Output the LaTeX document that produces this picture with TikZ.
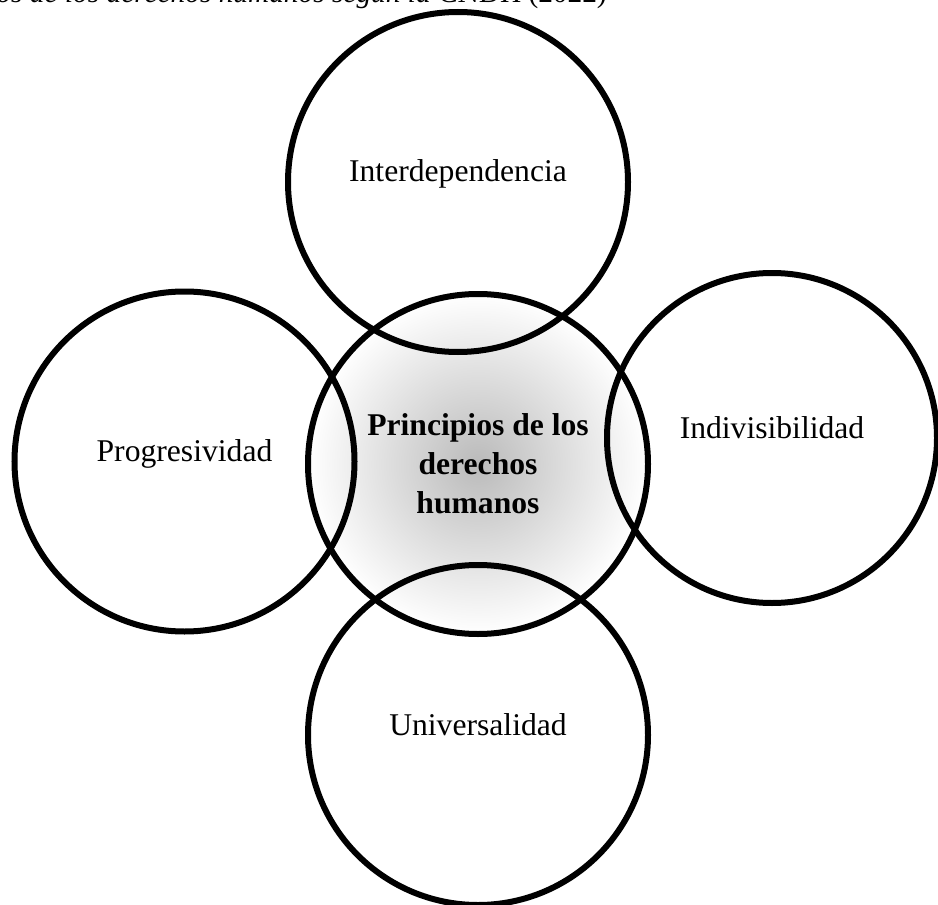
\documentclass[tikz,border=0pt]{standalone}
\usepackage{fontspec}
\setmainfont{Liberation Serif}
\usetikzlibrary{shapes,positioning}
\tikzstyle{principio} = [circle, draw, line width=0.12cm, minimum size=6.8cm,
    text height=0.35em, text depth=0.35em, font=\fontsize{18}{22.5}\selectfont]
\tikzstyle{nucleo} = [circle, draw, line width=0.12cm, minimum size=6.8cm,
    shade, inner color=black!27, outer color=white, align=center,
    font=\fontsize{18}{22.2}\selectfont\bfseries]

\begin{document}
\begin{tikzpicture}[node distance = 6cm]
    % Frame
    \useasboundingbox (0,0) rectangle (18.76,-18.10);
    \clip (0,0) rectangle (18.76,-18.10);
    % Title
    \node [anchor=base east, font=\fontsize{16.7}{20}\selectfont] (titulo) at (12.26,-0.06)
        {\textit{os de los derechos humanos según la} CNDH (2022)};
    % Place nodes
    \node [nucleo] (centro) at (9.56,-9.28) {Principios de los\\derechos\\humanos};
    \node [principio, above of=centro, node distance=5.64cm, xshift=-0.4cm] (inter) {Interdependencia};
    \node [principio, left of=centro, node distance=5.87cm, yshift=0.05cm] (progre) {Progresividad};
    \node [principio, right of=centro, node distance=5.88cm, yshift=0.52cm, minimum size=6.6cm] (indiv) {Indivisibilidad};
    \node [principio, below of=centro, node distance=5.42cm] (univ) {Universalidad};
\end{tikzpicture}
\end{document}
